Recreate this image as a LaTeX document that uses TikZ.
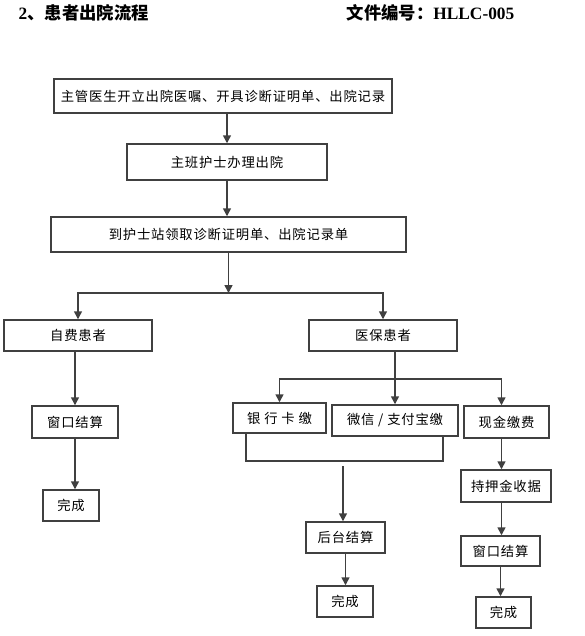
\documentclass[tikz,border=0pt]{standalone}
\usepackage{fontspec}
\setmainfont{Liberation Serif}
\newfontfamily\cjk[LetterSpace=6]{Noto Sans CJK SC}
\newfontfamily\cjktitle{Noto Sans CJK SC}
\usetikzlibrary{arrows.meta}

\begin{document}
\begin{tikzpicture}[x=0.75pt,y=-0.75pt,
    flowbox/.style={draw=black!75, line width=1.1pt, inner sep=0pt, fill=white,
        font=\fontsize{10}{12}\selectfont\cjk},
    boxsize/.style 2 args={minimum width=#1*0.75pt, minimum height=#2*0.75pt},
    flowline/.style={draw=black!75, line width=1.1pt},
    flowarrow/.style={flowline, -{Triangle[length=6pt,width=6pt]}},
    titletext/.style={anchor=west, font=\fontsize{13}{15}\selectfont\bfseries}]
    \useasboundingbox (0,0) rectangle (585,636);
    % title row
    \node[titletext] (title) at (14,13) {2{\cjktitle 、患者出院流程}};
    \node[titletext] (docno) at (342,13) {{\cjktitle 文件编号：}HLLC-005};
    % main column
    \node[flowbox, boxsize={338}{34}] (order) at (223,96) {主管医生开立出院医嘱、开具诊断证明单、出院记录};
    \node[flowbox, boxsize={200}{36}] (nurse) at (227,162) {主班护士办理出院};
    \node[flowbox, boxsize={355}{35}] (station) at (228.5,234.5) {到护士站领取诊断证明单、出院记录单};
    \node[flowbox, boxsize={148}{31}] (self) at (78,335.5) {自费患者};
    \node[flowbox, boxsize={148}{31}] (insured) at (383,335.5) {医保患者};
    % self-paying branch
    \node[flowbox, boxsize={86}{32}] (window1) at (75,422) {窗口结算};
    \node[flowbox, boxsize={56}{31}] (done1) at (71,505.5) {完成};
    % insured branch
    \node[flowbox, boxsize={93}{30}] (bank) at (279.5,418) {银 行 卡 缴};
    \node[flowbox, boxsize={126}{31}] (wechat) at (395,420.5) {微信 / 支付宝缴};
    \node[flowbox, boxsize={85}{32}] (cash) at (506.5,422) {现金缴费};
    \node[flowbox, boxsize={79}{31}] (backend) at (345.5,537.5) {后台结算};
    \node[flowbox, boxsize={56}{31}] (done2) at (345,601.5) {完成};
    \node[flowbox, boxsize={90}{32}] (deposit) at (506,486) {持押金收据};
    \node[flowbox, boxsize={79}{30}] (window2) at (500.5,551) {窗口结算};
    \node[flowbox, boxsize={55}{31}] (done3) at (503.5,612.5) {完成};
    % junction points
    \coordinate (split) at (228.5,293);
    \coordinate (split2) at (395,379);
    \coordinate (joinL) at (246,461);
    \coordinate (joinR) at (443,461);
    \coordinate (merge) at (343,466);
    \coordinate (cashin) at (501.5,379);
    % connectors
    \draw[flowarrow] (order.south -| nurse.north) -- (nurse.north);
    \draw[flowarrow] (nurse.south) -- (nurse.south |- station.north);
    \draw[flowarrow] (station.south) -- (split);
    \draw[flowarrow] (split) -| (self.north);
    \draw[flowarrow] (split) -| (insured.north);
    \draw[flowarrow] (self.south -| window1.north) -- (window1.north);
    \draw[flowarrow] (window1.south) -- (window1.south |- done1.north);
    \draw[flowarrow] (insured.south -| wechat.north) -- (wechat.north);
    \draw[flowarrow] (split2) -| (bank.north);
    \draw[flowarrow] (split2) -| (cashin |- cash.north);
    \draw[flowline] (bank.south -| joinL) -- (joinL) -- (joinR) -- (wechat.south -| joinR);
    \draw[flowarrow] (merge) -- (merge |- backend.north);
    \draw[flowarrow] (backend.south) -- (backend.south |- done2.north);
    \draw[flowarrow] (cash.south -| cashin) -- (cashin |- deposit.north);
    \draw[flowarrow] (deposit.south -| cashin) -- (cashin |- window2.north);
    \draw[flowarrow] (window2.south) -- (window2.south |- done3.north);
\end{tikzpicture}
\end{document}
